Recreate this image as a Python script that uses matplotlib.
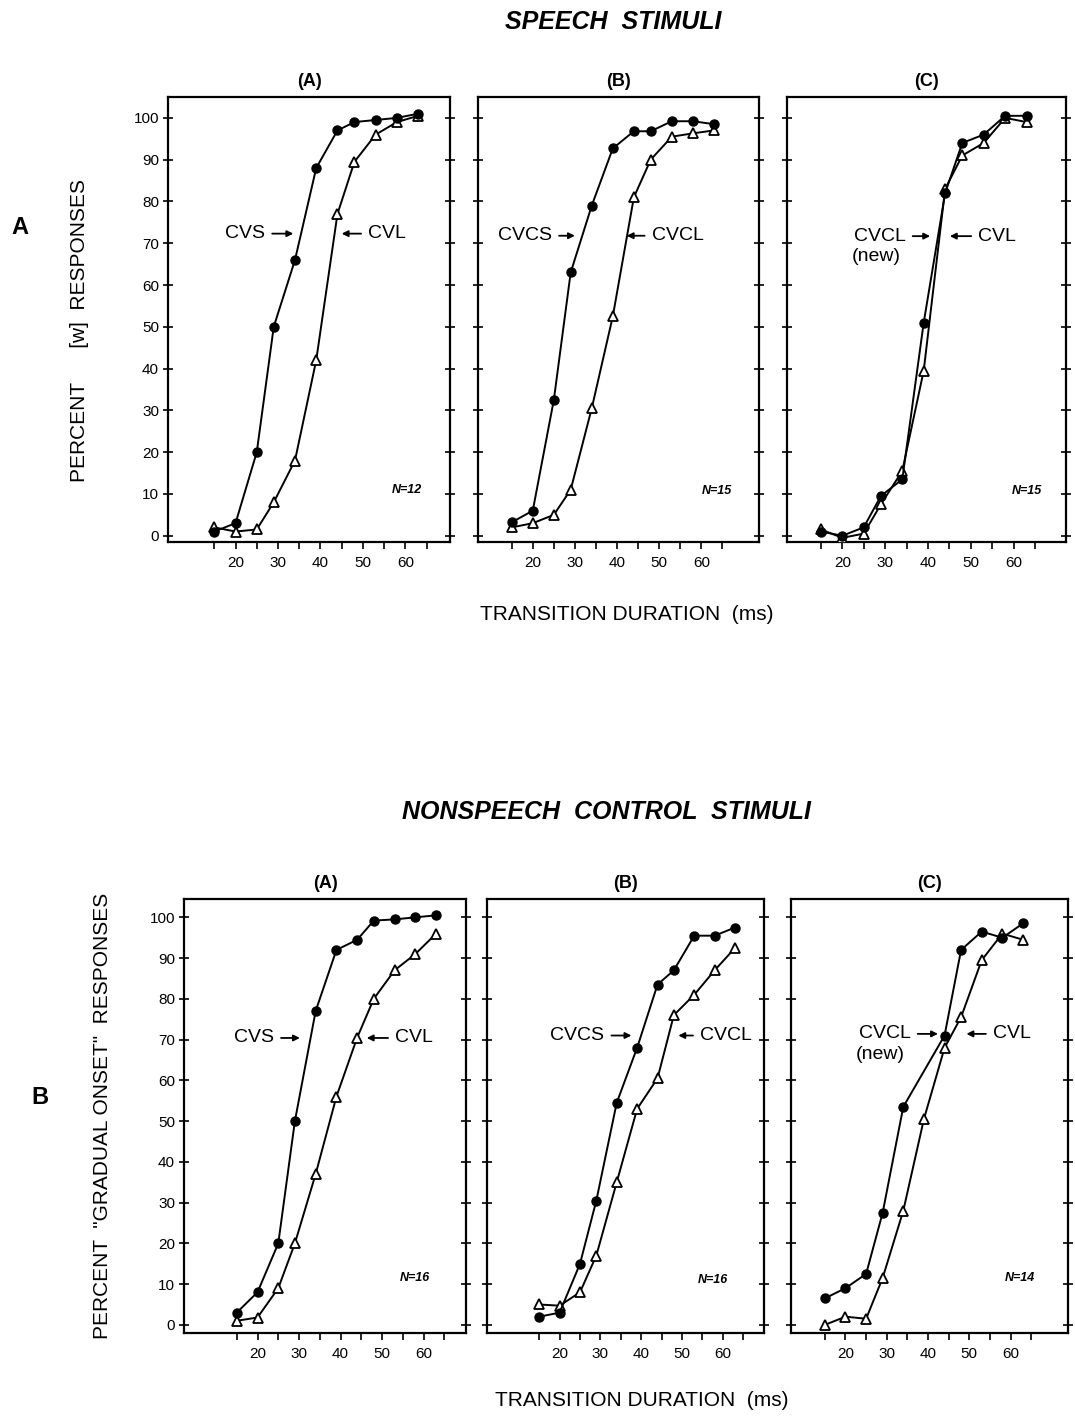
import matplotlib
matplotlib.use("Agg")
import matplotlib.pyplot as plt

plt.rcParams["font.family"] = ["Liberation Sans", "DejaVu Sans"]

W, H = 1075, 1418

# transition durations of the 11 stimuli (ms)
STEPS_MS = [15, 20, 25, 29, 34, 39, 44, 48, 53, 58, 63]
STEPS_MS_BC = [15, 20, 25, 29, 34, 44, 48, 53, 58, 63]   # one point missing in nonspeech (C)

# speech stimuli
sp_a_cvs = [1, 3, 20, 50, 66, 88, 97, 99, 99.5, 100, 101]
sp_a_cvl = [2, 1, 1.5, 8, 18, 42, 77, 89.5, 96, 99, 100.5]
sp_b_cvcs = [3.2, 6, 32.5, 63, 79, 92.7, 96.8, 96.8, 99.2, 99.2, 98.5]
sp_b_cvcl = [2, 3, 5, 11, 30.5, 52.5, 81, 90, 95.5, 96.3, 97]
sp_c_cvcl_new = [1, 0, 2, 9.5, 13.5, 51, 82, 94, 96, 100.5, 100.5]
sp_c_cvl = [1.5, -0.5, 0.5, 7.5, 15.5, 39.5, 83, 91, 94, 100, 99]

# nonspeech control stimuli
ns_a_cvs = [3, 8, 20, 50, 77, 92, 94.5, 99.2, 99.5, 100, 100.5]
ns_a_cvl = [1, 1.8, 9, 20, 37, 56, 70.5, 80, 87, 91, 96]
ns_b_cvcs = [2, 3, 15, 30.5, 54.5, 68, 83.5, 87, 95.5, 95.5, 97.5]
ns_b_cvcl = [5, 4.7, 8, 17, 35, 53, 60.5, 76, 81, 87, 92.5]
ns_c_cvcl_new = [6.5, 9, 12.5, 27.5, 53.5, 71, 92, 96.5, 95, 98.5]
ns_c_cvl = [0, 2, 1.5, 11.5, 28, 50.5, 68, 75.5, 89.5, 96, 94.5]

x_ticks = [15, 20, 25, 30, 35, 40, 45, 50, 55, 60, 65]
x_ticklabels = ["", "20", "", "30", "", "40", "", "50", "", "60", ""]
y_ticks = [0, 10, 20, 30, 40, 50, 60, 70, 80, 90, 100]


def add_panel(fig, box, xlim, ylim, show_y):
    l, t, r, b = box
    ax = fig.add_axes([l / W, 1 - b / H, (r - l) / W, (b - t) / H])
    ax.set_xlim(*xlim)
    ax.set_ylim(*ylim)
    ax.set_xticks(x_ticks)
    ax.set_xticklabels(x_ticklabels)
    ax.set_yticks(y_ticks)
    ax.yaxis.set_ticks_position("both")
    ax.tick_params(axis="x", direction="out", length=5, width=1.2, labelsize=11, pad=5)
    ax.tick_params(axis="y", direction="inout", length=7, width=1.2, labelsize=11, pad=3)
    if not show_y:
        ax.set_yticklabels([])
    for s in ax.spines.values():
        s.set_linewidth(1.6)
    return ax


def curves(ax, xf, yf, xo, yo):
    ax.plot(xo, yo, color="black", lw=1.4, marker="^", ms=7.5, mfc="white",
            mec="black", mew=1.3, zorder=3)
    ax.plot(xf, yf, color="black", lw=1.4, marker="o", ms=6.5, mfc="black",
            mec="black", zorder=4)


def label(ax, text, tip, tail, y, ha):
    ax.annotate(text, xy=(tip, y), xytext=(tail, y), ha=ha, va="center",
                fontsize=14,
                arrowprops=dict(arrowstyle="-|>", color="black", lw=1.3,
                                shrinkA=3, shrinkB=0, mutation_scale=9))


def nlabel(ax, text, x, y):
    ax.text(x, y, text, ha="right", va="center", fontsize=9,
            fontweight="bold", fontstyle="italic")


fig = plt.figure(figsize=(W / 100, H / 100), dpi=100)
fig.patch.set_facecolor("white")

top_ylim = (-1.5, 105)
bot_ylim = (-2, 104.5)

# ---- speech stimuli ----
ax = add_panel(fig, (168, 97, 450, 542), (4.1, 70.5), top_ylim, True)
curves(ax, STEPS_MS, sp_a_cvs, STEPS_MS, sp_a_cvl)
label(ax, "CVS", 33.6, 27.0, 72.3, "right")
label(ax, "CVL", 45.0, 51.2, 72.3, "left")
nlabel(ax, "N=12", 63.8, 11)
ax.set_title("(A)", fontsize=13, fontweight="bold", pad=8)

ax = add_panel(fig, (478, 97, 759, 542), (7.0, 73.7), top_ylim, False)
curves(ax, STEPS_MS, sp_b_cvcs, STEPS_MS, sp_b_cvcl)
label(ax, "CVCS", 30.0, 24.6, 71.8, "right")
label(ax, "CVCL", 42.3, 48.2, 71.8, "left")
nlabel(ax, "N=15", 67.2, 10.7)
ax.set_title("(B)", fontsize=13, fontweight="bold", pad=8)

ax = add_panel(fig, (787, 97, 1066, 542), (7.1, 72.2), top_ylim, False)
curves(ax, STEPS_MS, sp_c_cvcl_new, STEPS_MS, sp_c_cvl)
label(ax, "CVCL", 40.5, 34.8, 71.7, "right")
ax.text(28.0, 66.9, "(new)", ha="center", va="center", fontsize=14)
label(ax, "CVL", 45.1, 51.7, 71.7, "left")
nlabel(ax, "N=15", 66.6, 10.7)
ax.set_title("(C)", fontsize=13, fontweight="bold", pad=8)

# ---- nonspeech control stimuli ----
ax = add_panel(fig, (184, 899, 466, 1333), (2.3, 70.2), bot_ylim, True)
curves(ax, STEPS_MS, ns_a_cvs, STEPS_MS, ns_a_cvl)
label(ax, "CVS", 30.2, 24.0, 70.4, "right")
label(ax, "CVL", 46.3, 53.1, 70.4, "left")
nlabel(ax, "N=16", 61.6, 11.5)
ax.set_title("(A)", fontsize=13, fontweight="bold", pad=8)

ax = add_panel(fig, (487, 899, 764, 1333), (2.2, 70.1), bot_ylim, False)
curves(ax, STEPS_MS, ns_b_cvcs, STEPS_MS, ns_b_cvcl)
label(ax, "CVCS", 37.6, 31.0, 71.0, "right")
label(ax, "CVCL", 49.1, 54.4, 71.0, "left")
nlabel(ax, "N=16", 61.3, 11.1)
ax.set_title("(B)", fontsize=13, fontweight="bold", pad=8)

ax = add_panel(fig, (791, 899, 1068, 1333), (6.8, 73.9), bot_ylim, False)
curves(ax, STEPS_MS_BC, ns_c_cvcl_new, STEPS_MS, ns_c_cvl)
label(ax, "CVCL", 42.4, 35.8, 71.4, "right")
ax.text(28.3, 66.4, "(new)", ha="center", va="center", fontsize=14)
label(ax, "CVL", 49.3, 55.7, 71.4, "left")
nlabel(ax, "N=14", 65.8, 11.6)
ax.set_title("(C)", fontsize=13, fontweight="bold", pad=8)

# ---- figure texts ----
fig.text(613 / W, 1 - 22 / H, "SPEECH  STIMULI", ha="center", va="center",
         fontsize=18, fontweight="bold", fontstyle="italic")
fig.text(606 / W, 1 - 812 / H, "NONSPEECH  CONTROL  STIMULI", ha="center",
         va="center", fontsize=18, fontweight="bold", fontstyle="italic")

fig.text(20 / W, 1 - 227 / H, "A", ha="center", va="center", fontsize=17,
         fontweight="bold")
fig.text(40 / W, 1 - 1097 / H, "B", ha="center", va="center", fontsize=17,
         fontweight="bold")

fig.text(80 / W, 1 - 330 / H, "PERCENT      [w]  RESPONSES", rotation=90,
         ha="center", va="center", fontsize=15)
fig.text(103 / W, 1 - 1116 / H, 'PERCENT  "GRADUAL ONSET"  RESPONSES',
         rotation=90, ha="center", va="center", fontsize=15)

fig.text(627 / W, 1 - 615 / H, "TRANSITION DURATION  (ms)", ha="center",
         va="center", fontsize=15)
fig.text(642 / W, 1 - 1400 / H, "TRANSITION DURATION  (ms)", ha="center",
         va="center", fontsize=15)

fig.savefig("out.png", dpi=100)
